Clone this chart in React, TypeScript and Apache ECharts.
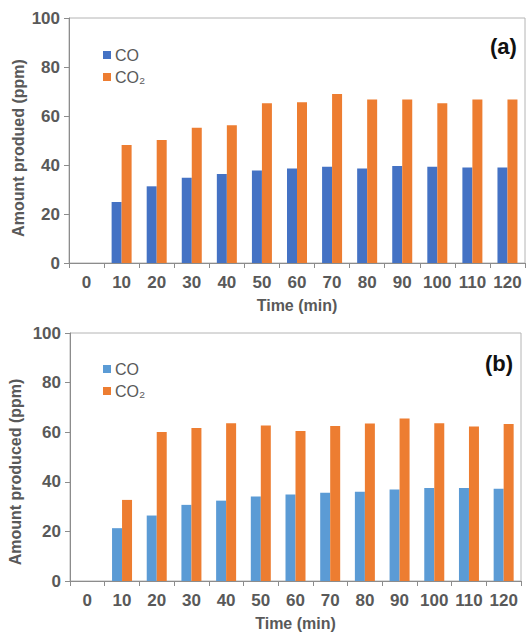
import React, { useEffect, useRef } from "react";
import * as echarts from "echarts";

const categories = ["0", "10", "20", "30", "40", "50", "60", "70", "80", "90", "100", "110", "120"];
const coA = [null, 24.9, 31.3, 34.8, 36.3, 37.8, 38.6, 39.3, 38.6, 39.6, 39.3, 39.0, 39.0];
const co2A = [null, 48.2, 50.2, 55.2, 56.2, 65.2, 65.6, 69.0, 66.7, 66.7, 65.2, 66.7, 66.7];
const coB = [null, 21.3, 26.4, 30.7, 32.4, 34.1, 34.9, 35.6, 36.0, 36.9, 37.5, 37.5, 37.2];
const co2B = [null, 32.7, 60.1, 61.7, 63.6, 62.7, 60.5, 62.5, 63.5, 65.5, 63.6, 62.3, 63.3];
const yTitleA = "Amount produed (ppm)";
const yTitleB = "Amount produced (ppm)";
const xTitle = "Time (min)";

const FONT = "'Liberation Sans', Arial, sans-serif";
const GRAY = "#595959";

export default function App() {
  const ref = useRef<HTMLDivElement>(null);
  useEffect(() => {
    if (!ref.current) return;
    const chart = echarts.init(ref.current, null, { renderer: "svg" });
    const xAxisBase = (gridIndex: number) => ({
      type: "category",
      gridIndex,
      data: categories,
      name: xTitle,
      nameLocation: "middle",
      nameGap: 34,
      nameTextStyle: { color: GRAY, fontSize: 16, fontWeight: "bold", fontFamily: FONT },
      axisLine: { show: true, lineStyle: { color: "#8c8c8c", width: 1 } },
      axisTick: { show: true, length: 5, lineStyle: { color: "#8c8c8c" } },
      axisLabel: { interval: 0, margin: 11, color: GRAY, fontSize: 17, fontWeight: "bold", fontFamily: FONT },
      splitLine: { show: false },
    });
    const yAxisBase = (gridIndex: number) => ({
      type: "value",
      gridIndex,
      min: 0,
      max: 100,
      interval: 20,
      axisLine: { show: true, lineStyle: { color: "#8c8c8c", width: 1 } },
      axisTick: { show: true, length: 5, lineStyle: { color: "#8c8c8c" } },
      axisLabel: { margin: 9, color: GRAY, fontSize: 17, fontWeight: "bold", fontFamily: FONT },
      splitLine: { show: false },
    });
    const legendBase = (top: number, names: string[]) => ({
      orient: "vertical",
      left: 98,
      top,
      itemWidth: 8,
      itemHeight: 8,
      itemGap: 6,
      icon: "rect",
      data: names,
      formatter: (n: string) => n.split("|")[0],
      textStyle: { color: GRAY, fontSize: 16, fontFamily: FONT, padding: [0, 0, 0, -1] },
      selectedMode: false,
    });
    chart.setOption({
      animation: false,
      backgroundColor: "#ffffff",
      grid: [
        { left: 69, top: 18, width: 456, height: 245, show: true, borderColor: "#b4b4b4", borderWidth: 1, backgroundColor: "transparent" },
        { left: 70, top: 333, width: 451, height: 250, show: true, borderColor: "#b4b4b4", borderWidth: 1, backgroundColor: "transparent" },
      ],
      xAxis: [xAxisBase(0), xAxisBase(1)],
      yAxis: [yAxisBase(0), yAxisBase(1)],
      legend: [legendBase(42, ["CO|a", "CO₂|a"]), legendBase(356, ["CO|b", "CO₂|b"])],
      title: [
        { text: "(a)", left: 485, top: 30, textStyle: { fontSize: 22, fontWeight: "bold", color: "#111", fontFamily: FONT } },
        { text: "(b)", left: 480, top: 347, textStyle: { fontSize: 22, fontWeight: "bold", color: "#111", fontFamily: FONT } },
      ],
      graphic: [
        {
          type: "text",
          x: 18,
          y: 148,
          rotation: Math.PI / 2,
          style: { text: yTitleA, fill: GRAY, font: `bold 16px ${FONT}`, align: "center", verticalAlign: "middle" },
        },
        {
          type: "text",
          x: 15,
          y: 472,
          rotation: Math.PI / 2,
          style: { text: yTitleB, fill: GRAY, font: `bold 16px ${FONT}`, align: "center", verticalAlign: "middle" },
        },
      ],
      series: [
        { name: "CO|a", type: "bar", xAxisIndex: 0, yAxisIndex: 0, data: coA, barWidth: 10, barGap: "0%", itemStyle: { color: "#4472C4" } },
        { name: "CO₂|a", type: "bar", xAxisIndex: 0, yAxisIndex: 0, data: co2A, barWidth: 10, barGap: "0%", itemStyle: { color: "#ED7D31" } },
        { name: "CO|b", type: "bar", xAxisIndex: 1, yAxisIndex: 1, data: coB, barWidth: 10, barGap: "0%", itemStyle: { color: "#5B9BD5" } },
        { name: "CO₂|b", type: "bar", xAxisIndex: 1, yAxisIndex: 1, data: co2B, barWidth: 10, barGap: "0%", itemStyle: { color: "#ED7D31" } },
      ],
    });
    return () => chart.dispose();
  }, []);
  return <div ref={ref} style={{ width: 528, height: 632, position: "absolute", left: 0, top: 0 }} />;
}
